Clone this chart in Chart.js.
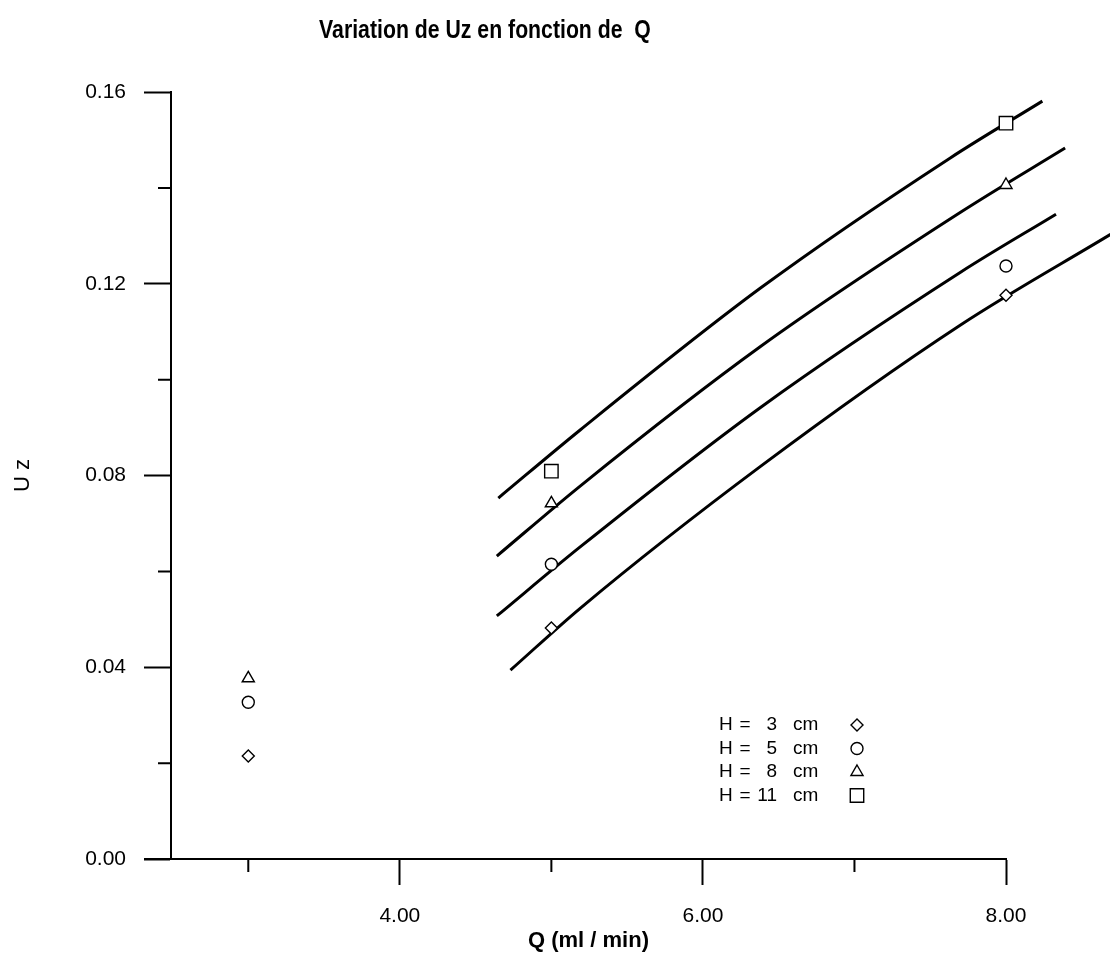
<!DOCTYPE html>
<html>
<head>
<meta charset="utf-8">
<title>Variation de Uz en fonction de Q</title>
<script src="https://cdn.jsdelivr.net/npm/chart.js@4.4.0/dist/chart.umd.min.js"></script>
<style>
  html, body { margin: 0; padding: 0; background: #fff; }
</style>
</head>
<body>
<canvas id="uzChart" width="1110" height="954"></canvas>
<script>
// Mesures : débit Q (ml/min) et Uz pour chaque hauteur H
const debits = [3, 5, 8];
const uzH3 = [0.0215, 0.0482, 0.1176];
const uzH5 = [0.0327, 0.0615, 0.1237];
const uzH8 = [0.0377, 0.0742, 0.1406];
const uzH11 = [null, 0.0809, 0.1535];

// Courbes d'ajustement, relevées point par point
const courbeQH3 = [4.73, 5.19, 6.38, 7.70, 8.69];
const courbeUzH3 = [0.0394, 0.0523, 0.0819, 0.1114, 0.1303];
const courbeQH5 = [4.64, 5.19, 6.38, 7.70, 8.33];
const courbeUzH5 = [0.0507, 0.0651, 0.0942, 0.1224, 0.1345];
const courbeQH8 = [4.64, 5.19, 6.38, 7.70, 8.39];
const courbeUzH8 = [0.0632, 0.0778, 0.1069, 0.1349, 0.1483];
const courbeQH11 = [4.65, 5.19, 6.38, 7.63, 8.24];
const courbeUzH11 = [0.0753, 0.0895, 0.1191, 0.1462, 0.1581];

const etiquettesH = ['H = 3 cm', 'H = 5 cm', 'H = 8 cm', 'H = 11 cm'];
const symboles = ['rectRot', 'circle', 'triangle', 'rect'];
const rayons = [6, 6, 7, 9.5];

const titre = 'Variation de Uz en fonction de  Q';
const titreX = 'Q (ml / min)';
const titreY = 'U z';

function points(xs, ys) {
  return xs.map((x, i) => ({ x: x, y: ys[i] })).filter(p => p.y !== null);
}

function estMajeurX(v) { return Math.round(v) % 2 === 0; }
function estMajeurY(v) { return Math.round(v / 0.02) % 2 === 0; }

const mesures = [uzH3, uzH5, uzH8, uzH11];
const courbes = [
  [courbeQH3, courbeUzH3],
  [courbeQH5, courbeUzH5],
  [courbeQH8, courbeUzH8],
  [courbeQH11, courbeUzH11]
];

const datasets = [];
mesures.forEach((serie, i) => {
  datasets.push({
    type: 'scatter',
    label: etiquettesH[i],
    legende: true,
    data: points(debits, serie),
    pointStyle: symboles[i],
    pointRadius: rayons[i],
    pointBackgroundColor: '#fff',
    pointBorderColor: '#000',
    pointBorderWidth: 1.4,
    clip: false,
    order: 0
  });
});
courbes.forEach(c => {
  datasets.push({
    type: 'line',
    label: '',
    data: points(c[0], c[1]),
    borderColor: '#000',
    borderWidth: 3,
    pointRadius: 0,
    fill: false,
    cubicInterpolationMode: 'monotone',
    clip: false,
    order: 1
  });
});

// Titre, légende et petites graduations
const titrePlugin = {
  id: 'titre',
  afterDraw(chart) {
    const ctx = chart.ctx;
    ctx.save();
    ctx.font = 'bold 25px "Liberation Sans", Arial, sans-serif';
    ctx.fillStyle = '#000';
    ctx.textAlign = 'center';
    ctx.textBaseline = 'middle';
    ctx.translate(485, 31);
    ctx.scale(0.85, 1);
    ctx.fillText(titre, 0, 0);
    ctx.restore();
  }
};

const legendePlugin = {
  id: 'legende',
  afterDraw(chart) {
    const ctx = chart.ctx;
    ctx.save();
    ctx.font = '19px "Liberation Sans", Arial, sans-serif';
    ctx.textBaseline = 'middle';
    chart.data.datasets.filter(d => d.legende).forEach((d, i) => {
      const y = 725 + i * 23.5;
      const mots = d.label.split(' ');
      ctx.fillStyle = '#000';
      ctx.textAlign = 'left';
      ctx.fillText(mots[0], 719, y);
      ctx.textAlign = 'center';
      ctx.fillText(mots[1], 745, y);
      ctx.textAlign = 'right';
      ctx.fillText(mots[2], 777, y);
      ctx.textAlign = 'left';
      ctx.fillText(mots[3], 793, y);
      ctx.fillStyle = '#fff';
      ctx.strokeStyle = '#000';
      ctx.lineWidth = 1.4;
      Chart.helpers.drawPoint(ctx, {
        pointStyle: d.pointStyle, radius: d.pointRadius, rotation: 0, borderWidth: 1.4
      }, 857, y);
    });
    ctx.restore();
  }
};

const grainsPlugin = {
  id: 'grains',
  afterDraw(chart) {
    const { ctx, chartArea, scales } = chart;
    ctx.save();
    ctx.strokeStyle = '#000';
    ctx.lineWidth = 2;
    ctx.beginPath();
    scales.x.ticks.forEach(t => {
      if (!estMajeurX(t.value)) {
        const px = scales.x.getPixelForValue(t.value);
        ctx.moveTo(px, chartArea.bottom);
        ctx.lineTo(px, chartArea.bottom + 13);
      }
    });
    scales.y.ticks.forEach(t => {
      if (!estMajeurY(t.value)) {
        const py = scales.y.getPixelForValue(t.value);
        ctx.moveTo(chartArea.left, py);
        ctx.lineTo(chartArea.left - 13, py);
      }
    });
    // l'axe des Q dépasse un peu à gauche
    ctx.moveTo(chartArea.left - 27, chartArea.bottom);
    ctx.lineTo(chartArea.left, chartArea.bottom);
    ctx.stroke();
    ctx.restore();
  }
};

const policeGrad = { family: '"Liberation Sans", Arial, sans-serif', size: 21 };

new Chart(document.getElementById('uzChart').getContext('2d'), {
  data: { datasets: datasets },
  options: {
    responsive: false,
    animation: false,
    layout: { padding: { top: 92, right: 104, left: 0, bottom: 0 } },
    plugins: {
      legend: { display: false },
      title: { display: false },
      tooltip: { enabled: false }
    },
    scales: {
      x: {
        type: 'linear',
        min: 2.49,
        max: 8,
        afterFit(s) { s.height = 95; },
        border: { display: true, color: '#000', width: 2 },
        grid: {
          drawOnChartArea: false,
          tickLength: 26,
          tickWidth: 2,
          tickColor: c => estMajeurX(c.tick.value) ? '#000' : 'rgba(0,0,0,0)'
        },
        ticks: {
          stepSize: 1,
          includeBounds: false,
          padding: 19,
          maxRotation: 0,
          autoSkip: false,
          color: '#000',
          font: policeGrad,
          callback: v => estMajeurX(v) ? v.toFixed(2) : ''
        },
        title: {
          display: true,
          text: titreX,
          color: '#000',
          font: { family: '"Liberation Sans", Arial, sans-serif', size: 22, weight: 'bold' },
          padding: { top: 0, bottom: 0 }
        }
      },
      y: {
        min: 0,
        max: 0.16,
        afterFit(s) { s.width = 171; },
        border: { display: true, color: '#000', width: 2 },
        grid: {
          drawOnChartArea: false,
          tickLength: 27,
          tickWidth: 2,
          tickColor: c => estMajeurY(c.tick.value) ? '#000' : 'rgba(0,0,0,0)'
        },
        ticks: {
          stepSize: 0.02,
          padding: 18,
          color: '#000',
          font: policeGrad,
          callback: v => estMajeurY(v) ? v.toFixed(2) : ''
        },
        title: {
          display: true,
          text: titreY,
          color: '#000',
          font: { family: '"Liberation Sans", Arial, sans-serif', size: 22 },
          padding: { top: 10, bottom: 0 }
        }
      }
    }
  },
  plugins: [titrePlugin, legendePlugin, grainsPlugin]
});
</script>
</body>
</html>
